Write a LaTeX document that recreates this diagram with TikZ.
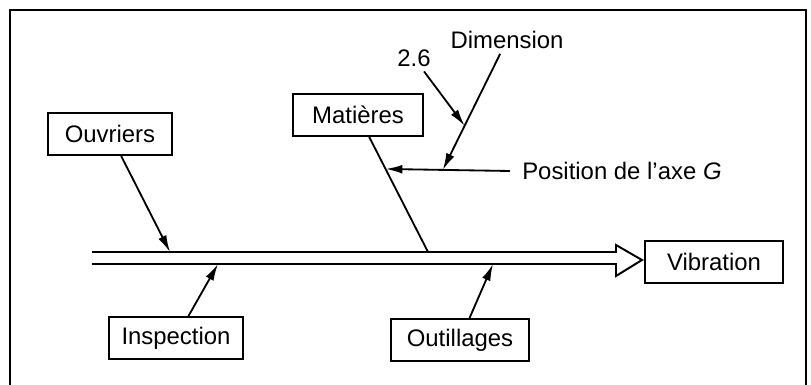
\documentclass[tikz,border=0pt]{standalone}
\usepackage{fontspec}
\setmainfont{Liberation Sans}
\usetikzlibrary{arrows.meta,calc}

\begin{document}
\begin{tikzpicture}[x=0.025cm, y=-0.025cm,
        every node/.style={font=\fontsize{17}{20}\selectfont},
        box/.style={draw, line width=1.4pt, minimum height=1.05cm, inner sep=2pt},
        bone/.style={line width=1.3pt, -{Latex[length=0.42cm,width=0.22cm]}}]
        \useasboundingbox (0,0) rectangle (811,385);
        \draw[line width=1.4pt] (10,385) -- (10,10) -- (806,10) -- (806,385);
        \node[box, minimum width=3.1cm] at (110,134) (ouv) {Ouvriers};
        \node[box, minimum width=3.25cm] at (358,115) (mat) {Matières};
        \node[box, minimum width=3.45cm] at (714,262) (vib) {Vibration};
        \node[box, minimum width=3.35cm] at (176,338) (ins) {Inspection};
        \node[box, minimum width=3.45cm] at (460,340) (out) {Outillages};
        \node at (507,40) (dim) {Dimension};
        \node at (414,58) (val) {2.6};
        \node[anchor=west, inner sep=0] at (522,171) (pos) {Position de l'axe \textit{G}};
        % spine
        \draw[line width=1.4pt] (92,252) -- (616,252) -- (616,245) -- (642,260) -- (616,276) -- (616,264) -- (92,264);
        \coordinate (o1) at (170,252);
        \coordinate (m1) at (428,252);
        \coordinate (i1) at (218,264);
        \coordinate (t1) at (493,264);
        \draw[bone] (ouv) -- (o1);
        \draw[bone] (ins) -- (i1);
        \draw[bone] (out) -- (t1);
        \draw[line width=1.3pt] (mat) -- (m1);
        \coordinate (axe) at ($(mat)!0.394!(m1)$);
        \coordinate (p0) at ([xshift=-0.3cm]pos.west);
        \coordinate (d1) at ($(axe)!0.46!(p0)$);
        \draw[bone] (p0) -- (axe);
        \draw[bone] (dim) -- (d1);
        \coordinate (v1) at ($(dim)!0.66!(d1)$);
        \draw[bone] (val) -- (v1);
    \end{tikzpicture}
\end{document}
